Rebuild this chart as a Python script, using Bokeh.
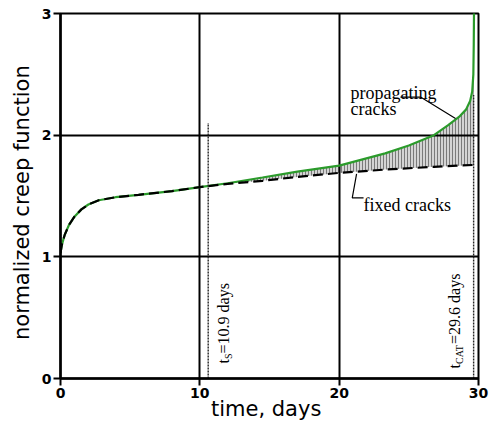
import numpy as np
from bokeh.plotting import figure
from bokeh.models import Range1d, FixedTicker, Label
from bokeh.embed import file_html
from bokeh.resources import INLINE

# ---- data ----
t_prop = [0, 0.1, 0.3, 0.6, 1.0, 1.5, 2.0, 2.75, 3.95, 5.6, 8.0, 10.0, 12.0,
          14.5, 17.0, 20.0, 23.3, 25.0, 26.8, 27.8, 28.6, 29.1, 29.4, 29.55,
          29.63, 29.66, 29.68]
j_prop = [1.03, 1.1, 1.18, 1.26, 1.33, 1.39, 1.43, 1.465, 1.49, 1.51, 1.54, 1.573, 1.605,
          1.652, 1.70, 1.75, 1.85, 1.915, 2.0, 2.08, 2.15, 2.21, 2.28, 2.36,
          2.5, 2.75, 3.05]
t_fixed = [0, 0.1, 0.3, 0.6, 1.0, 1.5, 2.0, 2.75, 3.95, 5.6, 8.0, 10.0, 12.0,
           14.5, 17.0, 20.0, 23.3, 26.8, 29.6]
j_fixed = [1.03, 1.1, 1.18, 1.26, 1.33, 1.39, 1.43, 1.465, 1.49, 1.51, 1.54, 1.573, 1.60,
           1.625, 1.657, 1.69, 1.717, 1.74, 1.755]
t_s_line = 10.6      # position of dotted line t_S
t_s_top = 2.1
t_cat_line = 29.65   # position of dotted line t_CAT
t_cat_top = 2.33
fill_start = 12.0

x_ticks = [0, 10, 20, 30]
y_ticks = [0, 1, 2, 3]
grid_x = [10, 20]
grid_y = [1, 2]

x_label = "time,  days"
y_label = "normalized  creep  function"

# ---- figure ----
p = figure(width=489, height=423,
           x_range=Range1d(0, 30), y_range=Range1d(0, 3),
           output_backend="svg", toolbar_location=None,
           min_border_left=60, min_border_right=11, min_border_top=13,
           min_border_bottom=45)
p.background_fill_color = "white"
p.border_fill_color = "white"
p.outline_line_color = "black"
p.outline_line_width = 2

for ax, ticks in ((p.xaxis[0], x_ticks), (p.yaxis[0], y_ticks)):
    ax.ticker = FixedTicker(ticks=ticks)
    ax.minor_tick_line_color = None
    ax.major_tick_in = 0
    ax.major_tick_out = 7
    ax.major_tick_line_width = 2
    ax.major_tick_line_color = "black"
    ax.axis_line_width = 2.5
    ax.axis_line_color = "black"
    ax.major_label_text_font = "DejaVu Sans"
    ax.major_label_text_font_style = "bold"
    ax.major_label_text_font_size = "14px"
    ax.major_label_text_color = "black"
    ax.major_label_standoff = 2
    ax.axis_label_text_font = "DejaVu Sans"
    ax.axis_label_text_font_style = "normal"
    ax.axis_label_text_font_size = "21px"
    ax.axis_label_text_color = "black"

p.yaxis[0].axis_label = y_label
p.yaxis[0].axis_label_standoff = 5
p.xaxis[0].axis_label = x_label
p.xaxis[0].axis_label_standoff = -4

p.xgrid.ticker = FixedTicker(ticks=grid_x)
p.ygrid.ticker = FixedTicker(ticks=grid_y)
for g in (p.xgrid[0], p.ygrid[0]):
    g.grid_line_color = "black"
    g.grid_line_width = 2
    g.grid_line_alpha = 1.0

# hatched region between the two curves
tf = np.array([fill_start] + [t for t in t_prop if fill_start < t < t_cat_line] + [t_cat_line])
lower = np.interp(tf, t_fixed, j_fixed)
upper = np.interp(tf, t_prop, j_prop)
p.varea(x=tf, y1=lower, y2=upper, fill_color="#d4d4d4", hatch_pattern="vertical_line",
        hatch_color="#7a7a7a", hatch_scale=3, hatch_weight=1, level="image")

# curves
p.line(t_prop, j_prop, line_color="#2b9b2b", line_width=2.2)
p.line(t_fixed, j_fixed, line_color="black", line_width=2.2, line_dash="10 5")

# dotted markers
p.line([t_s_line, t_s_line], [0, t_s_top], line_color="#222222", line_width=1.4, line_dash="2 1")
p.line([t_cat_line, t_cat_line], [0, t_cat_top], line_color="#222222", line_width=1.4, line_dash="2 1")

# leader lines for annotations
lead_prop_x = [24.40, 25.84, 28.35]
lead_prop_y = [2.313, 2.313, 2.137]
lead_fix_x = [21.25, 20.94, 21.75]
lead_fix_y = [1.682, 1.485, 1.485]
p.line(lead_prop_x, lead_prop_y, line_color="black", line_width=1.2)
p.line(lead_fix_x, lead_fix_y, line_color="black", line_width=1.2)

serif = "Liberation Serif"

def lab(x, y, text, size, angle=0.0, align="left", baseline="alphabetic", font=serif):
    p.add_layout(Label(x=x, y=y, text=text, text_font=font, text_font_size=size,
                       angle=angle, angle_units="rad", text_align=align,
                       text_baseline=baseline, text_color="black"))

lab(20.81, 2.35, "propagating", "18px")
lab(20.81, 2.215, "cracks", "18px")
lab(21.75, 1.422, "fixed cracks", "18px")

rot = np.pi / 2
# t_S = 10.9 days
lab(11.70, 0.123, "t", "16px", rot, baseline="middle")
lab(12.06, 0.160, "S", "10px", rot, baseline="middle")
lab(11.70, 0.206, "=10.9 days", "16px", rot, baseline="middle")
# t_CAT = 29.6 days
lab(28.28, 0.082, "t", "16px", rot, baseline="middle")
lab(28.64, 0.119, "CAT", "10px", rot, baseline="middle")
lab(28.28, 0.284, "=29.6 days", "16px", rot, baseline="middle")

open("out.html", "w").write(file_html(p, INLINE))
